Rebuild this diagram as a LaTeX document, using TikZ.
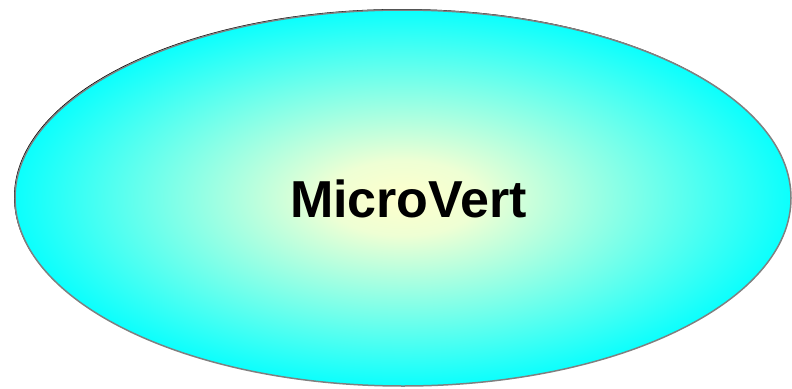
\documentclass[tikz,border=0pt]{standalone}
\usepackage{fontspec}
\setmainfont{Liberation Sans}
\usetikzlibrary{shapes.geometric}
\definecolor{mvinner}{HTML}{FFFFCC}
\definecolor{mvmid}{HTML}{EEFFD4}
\definecolor{mvouter}{HTML}{00FFFF}
\definecolor{mvborder}{HTML}{808080}
\pgfdeclareradialshading{mvshade}{\pgfpoint{0bp}{0bp}}{%
  color(0bp)=(mvinner);
  color(5bp)=(mvmid);
  color(26bp)=(mvouter);
  color(50bp)=(mvouter)}
\tikzset{
  bubble/.style={ellipse, shading=mvshade, draw=mvborder, line width=1.5pt,
    minimum width=776pt, minimum height=376pt, inner sep=0pt},
  shadowbubble/.style={ellipse, fill=black, draw=none,
    minimum width=776pt, minimum height=376pt, inner sep=0pt},
  bubbletext/.style={font=\fontsize{52}{60}\selectfont\bfseries, text=black, inner sep=0pt}
}
\begin{document}
\begin{tikzpicture}[x=1pt,y=1pt]
  \useasboundingbox (0,0) rectangle (792,-388);
  \node[shadowbubble] (shadow) at (402,-197) {};
  \node[bubble] (ell) at (403,-198) {};
  \node[bubbletext] (label) at (408.5,-198.5) {MicroVert};
\end{tikzpicture}
\end{document}
